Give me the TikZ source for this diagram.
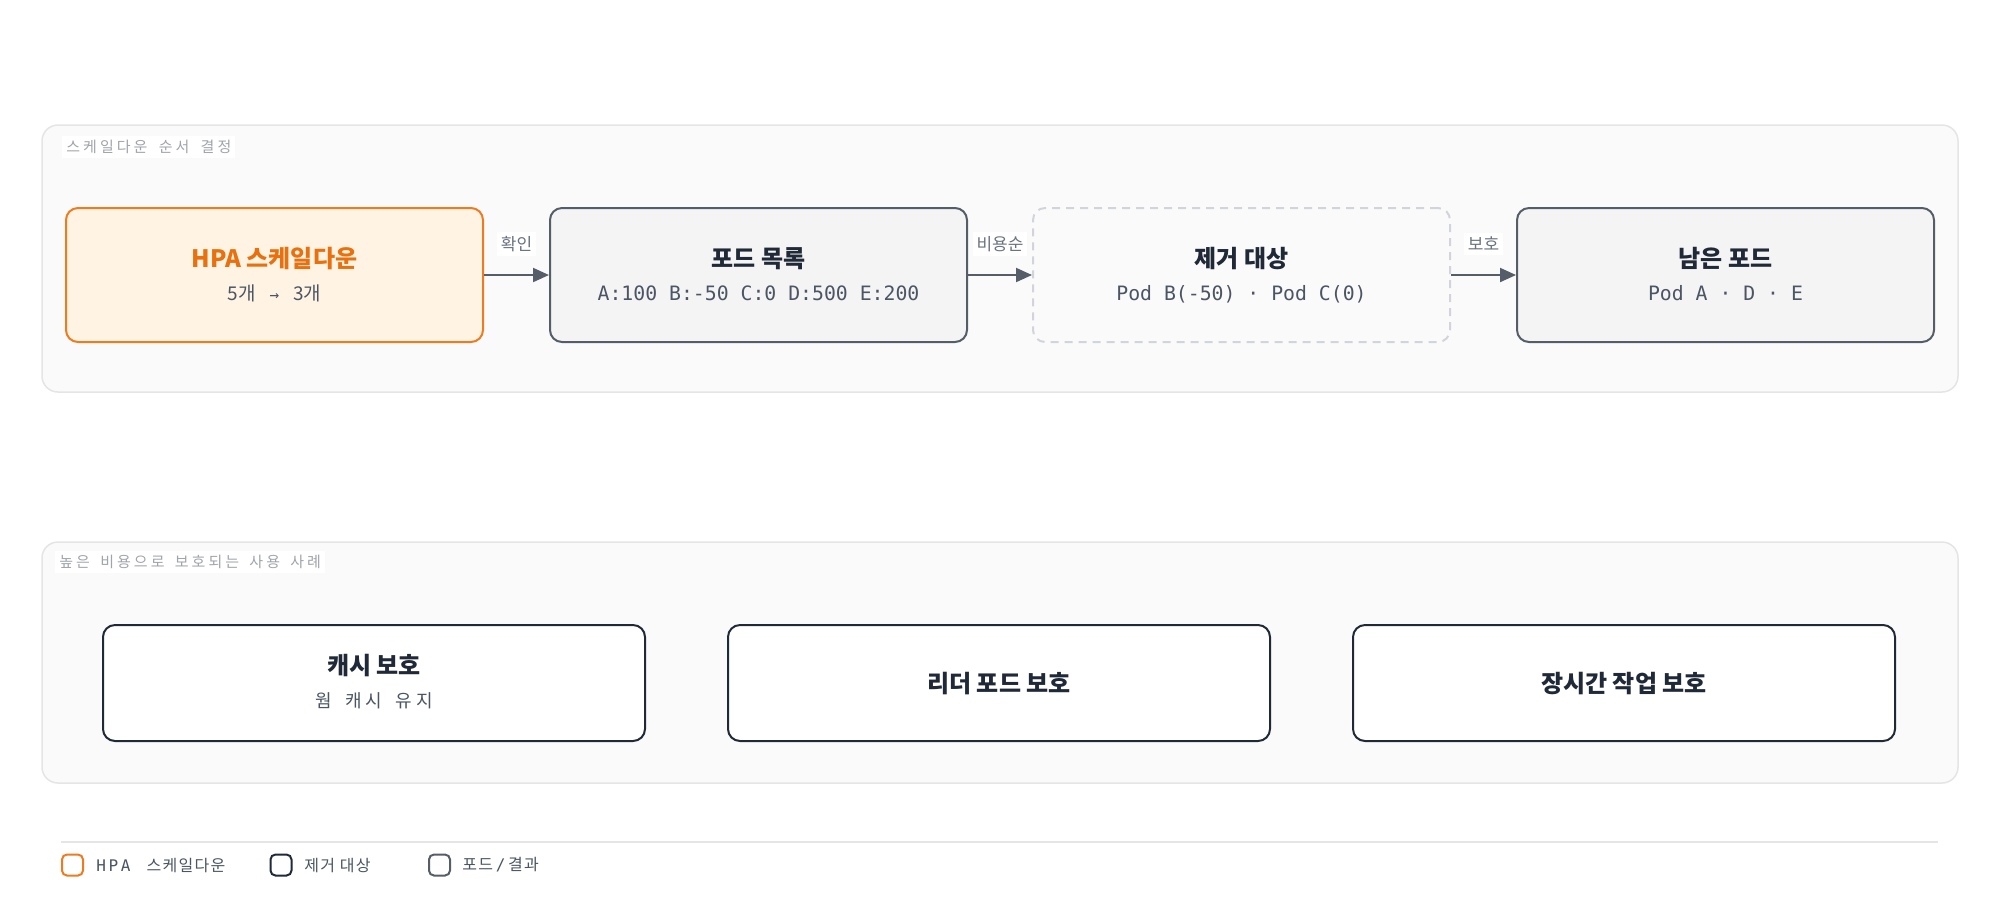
\documentclass[tikz,border=0pt]{standalone}
\usepackage{fontspec}
\setmainfont{Noto Sans CJK KR}
\setmonofont{DejaVu Sans Mono}
\newfontfamily\krsp[LetterSpace=8]{Noto Sans CJK KR}
\newfontfamily\krwide[LetterSpace=20]{Noto Sans CJK KR}
\usetikzlibrary{arrows.meta,calc}
\definecolor{panelfill}{HTML}{FAFAFA}
\definecolor{panelline}{HTML}{E5E5E5}
\definecolor{orangeline}{HTML}{EE7B1F}
\definecolor{orangefill}{HTML}{FFF4E4}
\definecolor{orangetext}{HTML}{E8700F}
\definecolor{grayline}{HTML}{555D68}
\definecolor{grayfill}{HTML}{F4F4F4}
\definecolor{dashline}{HTML}{D1D5DB}
\definecolor{navy}{HTML}{1F2937}
\definecolor{subtext}{HTML}{4B5563}
\definecolor{labeltext}{HTML}{6B7280}
\definecolor{paneltext}{HTML}{A0A4AB}
\begin{document}
\begin{tikzpicture}[x=0.5pt,y=-0.5pt,
  panelbox/.style={draw=panelline,fill=panelfill,line width=0.75pt,rounded corners=8pt,minimum width=958pt,minimum height=133.5pt,inner sep=0pt},
  paneltitle/.style={anchor=west,fill=white,inner sep=2pt,text=paneltext,font=\krwide\fontsize{7.5}{9}\selectfont},
  stepbox/.style={line width=1pt,rounded corners=6pt,minimum width=208.5pt,minimum height=67pt,inner sep=0pt},
  hpabox/.style={stepbox,draw=orangeline,fill=orangefill},
  podbox/.style={stepbox,draw=grayline,fill=grayfill},
  cutbox/.style={stepbox,draw=dashline,fill=panelfill,dash pattern=on 4pt off 3pt},
  usebox/.style={line width=1pt,rounded corners=6pt,minimum width=271pt,minimum height=58pt,inner sep=0pt,draw=navy,fill=white},
  ttl/.style={anchor=base,text=navy,font=\bfseries\fontsize{12}{14}\selectfont},
  sub/.style={anchor=base,text=subtext,font=\ttfamily\fontsize{9.9}{12}\selectfont},
  krsub/.style={anchor=base,text=subtext,font=\krwide\fontsize{9}{11}\selectfont},
  arr/.style={draw=grayline,line width=1pt,-{Triangle[length=8pt,width=7pt]}},
  elabel/.style={fill=white,inner sep=2pt,text=labeltext,font=\fontsize{8.5}{10}\selectfont,yshift=15.5pt},
  legsq/.style={line width=1pt,rounded corners=2.5pt,minimum size=10.5pt,inner sep=0pt,fill=white},
  legtxt/.style={anchor=west,text=subtext,inner sep=0pt,font=\krsp\fontsize{8}{10}\selectfont}
]
\useasboundingbox[fill=white] (0,0) rectangle (2000,918);

% panels
\node[panelbox] (p1) at (1000,258.5) {};
\node[paneltitle] (p1t) at (62,147) {스케일다운\hspace{2.5pt} 순서\hspace{2.5pt} 결정};
\node[panelbox,minimum height=120.5pt] (p2) at (1000,662.5) {};
\node[paneltitle] (p2t) at (55,562) {높은\hspace{2pt} 비용으로\hspace{2pt} 보호되는\hspace{2pt} 사용\hspace{2pt} 사례};

% top row boxes
\node[hpabox] (b1) at (274.5,275) {};
\node[podbox] (b2) at (758.5,275) {};
\node[cutbox] (b3) at (1241.5,275) {};
\node[podbox] (b4) at (1725.5,275) {};

\node[ttl,text=orangetext] (b1t) at ($(b1.center)+(0,-8)$) {HPA 스케일다운};
\node[anchor=base,text=subtext,font=\fontsize{9.5}{11}\selectfont] (b1s) at ($(b1.center)+(0,25)$) {5개\hspace{7pt}{\ttfamily\fontsize{8}{10}\selectfont →}\hspace{7pt}3개};
\node[ttl] (b2t) at ($(b2.center)+(0,-8)$) {포드 목록};
\node[sub] (b2s) at ($(b2.center)+(0,25)$) {A:100 B:-50 C:0 D:500 E:200};
\node[ttl] (b3t) at ($(b3.center)+(0,-8)$) {제거 대상};
\node[sub] (b3s) at ($(b3.center)+(0,25)$) {Pod B(-50) · Pod C(0)};
\node[ttl] (b4t) at ($(b4.center)+(0,-8)$) {남은 포드};
\node[sub] (b4s) at ($(b4.center)+(0,25)$) {Pod A · D · E};

\draw[arr] (b1) -- node[elabel] {확인} (b2);
\draw[arr] (b2) -- node[elabel] {비용순} (b3);
\draw[arr] (b3) -- node[elabel] {보호} (b4);

% bottom boxes
\node[usebox] (u1) at (374,683) {};
\node[usebox] (u2) at (999,683) {};
\node[usebox] (u3) at (1624,683) {};
\node[ttl] (u1t) at ($(u1.center)+(0,-9)$) {캐시 보호};
\node[krsub] (u1s) at ($(u1.center)+(0,24)$) {웜\hspace{3pt} 캐시\hspace{3pt} 유지};
\node[ttl] (u2t) at ($(u2.center)+(0,9)$) {리더 포드 보호};
\node[ttl] (u3t) at ($(u3.center)+(0,9)$) {장시간 작업 보호};

% legend
\coordinate (l1) at (61,842);
\coordinate (l2) at (1938,842);
\draw[panelline,line width=0.75pt] (l1) -- (l2);
\node[legsq,draw=orangeline] (q1) at (72.5,865) {};
\node[legtxt] (q1t) at (96,865) {{\ttfamily\fontsize{8}{10}\selectfont H\,P\,A}\hspace{8pt}스케일다운};
\node[legsq,draw=navy] (q2) at (281,865) {};
\node[legtxt] (q2t) at (304,865) {제거 대상};
\node[legsq,draw=grayline] (q3) at (439.5,865) {};
\node[legtxt] (q3t) at (462,865) {포드{\ttfamily\fontsize{8}{10}\selectfont\,/\,}결과};
\end{tikzpicture}
\end{document}
